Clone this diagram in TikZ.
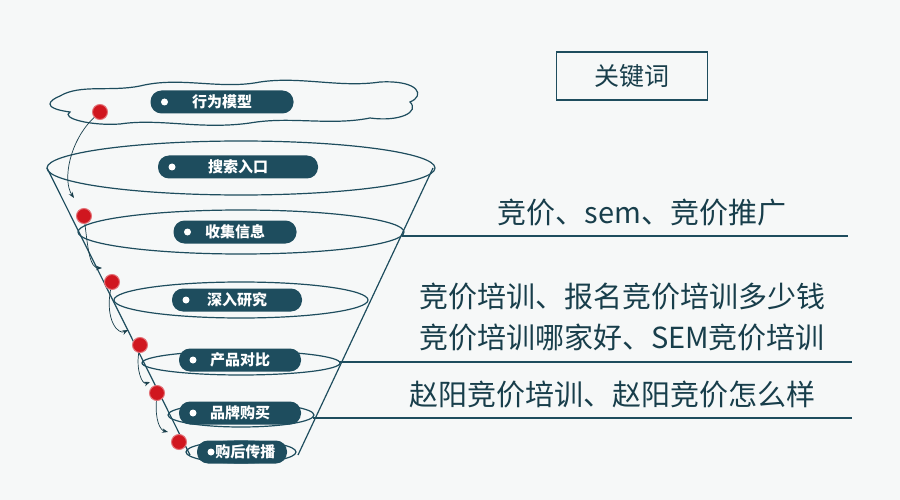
\documentclass[tikz,border=0pt]{standalone}
\usepackage{fontspec}
\newfontfamily\cjk{Noto Sans CJK SC}
\usetikzlibrary{arrows.meta}
\definecolor{teal}{HTML}{1E4D5E}
\definecolor{dotred}{HTML}{D0161F}
\definecolor{bg}{HTML}{F6F8F8}
\tikzset{
    pill/.style={fill=teal, text=white, rounded corners=11pt, minimum height=23pt,
        font=\cjk\bfseries\fontsize{15}{15}\selectfont, inner xsep=14pt},
    ring/.style={draw=teal, line width=1.2pt},
    stepdot/.style={circle, fill=dotred, draw=dotred!60!white, line width=1pt, minimum size=15pt, inner sep=0pt},
    hop/.style={draw=teal!80!black, line width=0.7pt, -{Stealth[length=6pt]}},
    kw/.style={text=teal!80!black, font=\cjk\fontsize{29}{29}\selectfont}
}
\begin{document}
\begin{tikzpicture}[x=1pt, y=-1pt]
    \fill[bg] (0,0) rectangle (900,500);
    \useasboundingbox (0,0) rectangle (900,500);

    % cloud
    \draw[ring] (60,96) .. controls (80,84) and (110,92) .. (140,86)
        .. controls (180,76) and (220,90) .. (260,82)
        .. controls (300,76) and (340,88) .. (380,82)
        .. controls (420,80) and (425,96) .. (410,102)
        .. controls (420,112) and (400,122) .. (370,118)
        .. controls (330,126) and (290,116) .. (250,123)
        .. controls (200,130) and (160,118) .. (120,124)
        .. controls (90,126) and (60,118) .. (70,112)
        .. controls (40,108) and (50,100) .. (60,96) -- cycle;

    % funnel
    \coordinate (fl) at (47,168);
    \coordinate (fr) at (433,168);
    \coordinate (bl) at (190,455);
    \coordinate (br) at (298,455);
    \draw[ring] (fl) -- (bl);
    \draw[ring] (fr) -- (br);
    \foreach \cy/\rx/\ry in {168/194/27, 232/163/22, 300/127/18, 363/99/12, 415/73/12, 452/55/11} {
        \draw[ring] (241,\cy) ellipse ({\rx} and {\ry});
    }

    % stages
    \node[pill, minimum width=143pt] (s1) at (222,102) {行为模型};
    \node[pill, minimum width=160pt] (s2) at (238,167) {搜索入口};
    \node[pill, minimum width=123pt] (s3) at (235,232) {收集信息};
    \node[pill, minimum width=130pt] (s4) at (237,300) {深入研究};
    \node[pill, minimum width=122pt] (s5) at (240,360) {产品对比};
    \node[pill, minimum width=122pt] (s6) at (240,413) {品牌购买};
    \node[pill, minimum width=90pt, inner xsep=6pt] (s7) at (242,452) {\ \ 购后传播};
    \foreach \s/\w in {s1/143, s2/160, s3/123, s4/130, s5/122, s6/122, s7/90} {
        \fill[white] ([xshift=-\w/2 pt+14pt]\s.center) circle (3.5pt);
    }

    % red dots and hops
    \node[stepdot] (d1) at (100,112) {};
    \node[stepdot] (d2) at (84,216) {};
    \node[stepdot] (d3) at (112,282) {};
    \node[stepdot] (d4) at (140,345) {};
    \node[stepdot] (d5) at (157,393) {};
    \node[stepdot] (d6) at (179,442) {};
    \draw[hop] (d1) .. controls (70,140) and (62,180) .. (74,198);
    \draw[hop] (d2) .. controls (88,250) and (90,268) .. (102,268);
    \draw[hop] (d3) .. controls (105,320) and (118,335) .. (128,330);
    \draw[hop] (d4) .. controls (136,370) and (142,385) .. (150,382);
    \draw[hop] (d5) .. controls (155,420) and (160,430) .. (168,432);

    % keywords
    \node[draw=teal, line width=1.2pt, minimum width=151pt, minimum height=48pt,
        text=teal!80!black, font=\cjk\fontsize{25}{25}\selectfont] (key) at (632,76) {关键词};
    \coordinate (l1a) at (402,236); \coordinate (l1b) at (848,236);
    \coordinate (l2a) at (340,362); \coordinate (l2b) at (852,362);
    \coordinate (l3a) at (313,418); \coordinate (l3b) at (852,418);
    \draw[ring] (l1a) -- (l1b);
    \draw[ring] (l2a) -- (l2b);
    \draw[ring] (l3a) -- (l3b);
    \node[kw] (k1) at (642,213) {竞价、sem、竞价推广};
    \node[kw] (k2) at (622,297) {竞价培训、报名竞价培训多少钱};
    \node[kw] (k3) at (622,337) {竞价培训哪家好、SEM竞价培训};
    \node[kw] (k4) at (612,395) {赵阳竞价培训、赵阳竞价怎么样};
\end{tikzpicture}
\end{document}
